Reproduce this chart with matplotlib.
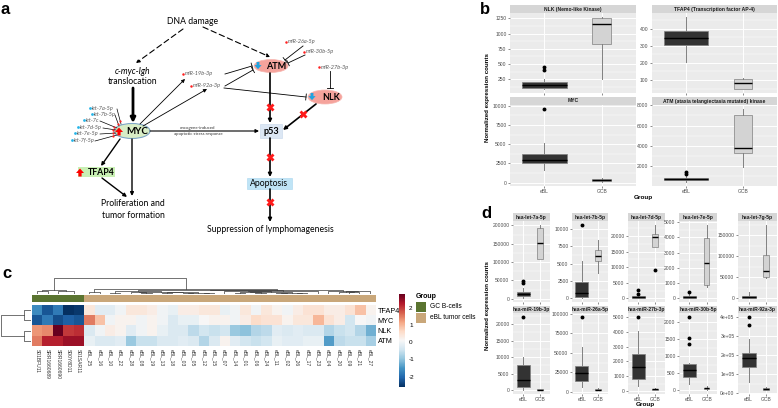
import numpy as np
import matplotlib
matplotlib.use("Agg")
import matplotlib.pyplot as plt
import matplotlib.patches as mpatches
from matplotlib.colors import ListedColormap

plt.rcParams["axes.unicode_minus"] = False

# ---------------------------------------------------------------
# data
# ---------------------------------------------------------------
# panel b : gene level boxplots  [whislo, q1, med, q3, whishi]
b_titles = ["NLK (Nemo-like Kinase)", "TFAP4 (Transcription factor AP-4)",
            "MYC", "ATM (ataxia telangiectasia mutated) kinase"]
b_ebl = [[86, 112, 150, 200, 255], [207, 303, 345, 384, 471],
         [1630, 2500, 3000, 3750, 5170], [400, 580, 720, 850, 1050]]
b_ebl_out = [[402, 457], [], [9600], [1250, 1450]]
b_gcb = [[255, 829, 1157, 1250, 1276], [45, 50, 80, 105, 110],
         [60, 170, 300, 430, 560], [1900, 3300, 3790, 7000, 7660]]
b_gcb_out = [[], [], [], []]
b_ticks = [[250, 500, 750, 1000, 1250], [100, 200, 300, 400],
           [0, 2500, 5000, 7500, 10000], [2000, 4000, 6000, 8000]]

# panel d : miRNA boxplots
d_titles = ["hsa-let-7a-5p", "hsa-let-7b-5p", "hsa-let-7d-5p", "hsa-let-7e-5p", "hsa-let-7g-5p",
            "hsa-miR-19b-3p", "hsa-miR-26a-5p", "hsa-miR-27b-3p", "hsa-miR-30b-5p", "hsa-miR-92a-3p"]
d_ebl = [[1000, 6400, 12700, 18200, 29000], [0, 240, 800, 2415, 5410],
         [0, 108, 400, 645, 1075], [0, 44, 110, 175, 263], [0, 1600, 3000, 5600, 16000],
         [0, 1020, 3000, 7650, 10200], [6500, 14350, 24000, 33500, 57800],
         [340, 850, 1600, 2470, 4040], [180, 398, 600, 776, 816],
         [60000, 137600, 186000, 208000, 282000]]
d_ebl_out = [[42700, 49000], [10630], [1400, 2800], [395], [],
             [22240], [96000], [5000], [1370, 1540, 2170], [358000, 400000]]
d_gcb = [[109000, 109000, 151800, 192700, 201800], [3720, 5410, 6180, 7000, 8450],
         [16450, 16450, 19680, 20750, 23650], [770, 877, 2300, 3950, 4825],
         [47900, 50300, 65400, 103700, 175500],
         [0, 50, 150, 300, 400], [2200, 2600, 3200, 3900, 4800],
         [70, 110, 140, 180, 225], [0, 30, 55, 80, 120],
         [14500, 16000, 21700, 27000, 30800]]
d_gcb_out = [[], [], [9140], [], [], [], [], [], [], []]
d_ticks = [[0, 50000, 100000, 150000, 200000], [0, 2500, 5000, 7500, 10000],
           [0, 5000, 10000, 15000, 20000], [0, 1000, 2000, 3000, 4000, 5000],
           [0, 50000, 100000, 150000],
           [0, 5000, 10000, 15000, 20000], [0, 25000, 50000, 75000, 100000],
           [0, 1000, 2000, 3000, 4000, 5000], [0, 500, 1000, 1500, 2000],
           [0, 100000, 200000, 300000, 400000]]
d_ticklabels_92a = ["0e+00", "1e+05", "2e+05", "3e+05", "4e+05"]

groups = ["eBL", "GCB"]

# panel c : heatmap (row scaled expression)
hm_rows = ["TFAP4", "MYC", "NLK", "ATM"]
hm_cols = ["S01BFU11", "SRR1660689", "SRR1660690", "S00Y8D11", "S01SAR11",
           "eBL_25", "eBL_16", "eBL_10", "eBL_22", "eBL_28", "eBL_08", "eBL_19",
           "eBL_13", "eBL_18", "eBL_03", "eBL_05", "eBL_12", "eBL_15", "eBL_07",
           "eBL_14", "eBL_01", "eBL_06", "eBL_24", "eBL_11", "eBL_02", "eBL_26",
           "eBL_17", "eBL_23", "eBL_04", "eBL_20", "eBL_09", "eBL_21", "eBL_27"]
hm_tfap4 = [-1.6, -2.2, -1.8, -2.6, -2.5,
            0.4, -0.2, -0.2, 0.0, 0.4, 0.4, 0.3, 0.0, -0.1, 0.3, 0.3, 0.4, 0.4, -0.1,
            0.0, 0.4, 0.0, 0.4, 0.2, 0.0, 0.3, 0.5, 0.5, 0.3, 0.3, 0.5, 0.9, 0.2]
hm_myc = [-2.2, -1.8, -2.3, -2.1, -2.2,
          1.5, 0.9, 0.0, 0.2, 0.2, 0.0, 0.2, 0.0, -0.3, -0.1, -0.1, 0.1, 0.2, 0.2,
          0.0, 0.3, 0.6, 0.5, 0.5, 0.2, 0.4, 0.4, 1.0, 0.5, 0.3, -0.4, 0.1, 0.0]
hm_nlk = [1.3, 1.4, 2.8, 2.0, 2.1,
          -0.3, 0.0, 0.3, 0.2, -0.2, 0.0, 0.2, -0.1, -0.3, -0.3, -0.6, -0.4, -0.5, -0.4,
          -0.9, -1.0, -0.7, -0.6, -0.2, -0.3, -0.2, -0.3, -0.3, -0.7, -0.5, -0.4, -0.7, -1.2]
hm_atm = [1.5, 2.2, 2.2, 2.4, 2.4,
          -0.1, -0.3, -0.3, -0.2, -0.9, -0.5, -0.5, -0.3, -0.3, -0.2, -0.3, -0.7, -0.3, 0.2,
          -0.2, -0.4, -0.5, -0.4, -0.1, -0.2, -0.2, -0.1, -0.1, -1.4, -0.6, -0.5, -0.5, -0.8]
hm_n_gcb = 5
hm_group_names = ["GC B-cells", "eBL tumor cells"]
hm_group_colors = ["#5A7430", "#C9A77A"]

# ---------------------------------------------------------------
# figure helpers (all layout in pixels of the 778x408 canvas)
# ---------------------------------------------------------------
W, H = 778, 408
fig = plt.figure(figsize=(W / 100, H / 100), dpi=100)
fig.patch.set_facecolor("white")
SANS = "Liberation Sans"


def px_axes(x0, y0, x1, y1):
    return fig.add_axes([x0 / W, 1 - y1 / H, (x1 - x0) / W, (y1 - y0) / H])


def fig_text(x, y, s, **kw):
    fig.text(x / W, 1 - y / H, s, **kw)


def gg_panel(x0, y0, x1, y1, strip_h, title, ebl, ebl_out, gcb, gcb_out,
             ticks, ticklabels=None, show_x=False):
    # strip on top
    sax = px_axes(x0, y0 - strip_h, x1, y0)
    sax.set_facecolor("#D6D6D6")
    sax.set_xticks([])
    sax.set_yticks([])
    for s in sax.spines.values():
        s.set_visible(False)
    sax.text(0.5, 0.5, title, ha="center", va="center", fontsize=3.6,
             fontweight="bold", family=SANS, color="#1A1A1A", transform=sax.transAxes)

    ax = px_axes(x0, y0, x1, y1)
    ax.set_facecolor("#EBEBEB")
    stats = []
    for vals, out in ((ebl, ebl_out), (gcb, gcb_out)):
        lo, q1, med, q3, hi = vals
        stats.append(dict(whislo=lo, q1=q1, med=med, q3=q3, whishi=hi, fliers=out))
    bp = ax.bxp(stats, positions=[1, 2], widths=[0.78, 0.33], patch_artist=True,
                showcaps=False,
                boxprops=dict(edgecolor="#808080", linewidth=0.5),
                whiskerprops=dict(color="#808080", linewidth=0.7),
                medianprops=dict(color="black", linewidth=1.0),
                flierprops=dict(marker="o", markersize=1.8, markerfacecolor="black",
                                markeredgecolor="black", linestyle="none"))
    for patch, fc in zip(bp["boxes"], ["#333333", "#D3D3D3"]):
        patch.set_facecolor(fc)

    allv = ebl + gcb + list(ebl_out) + list(gcb_out)
    lo, hi = min(allv), max(allv)
    pad = 0.05 * (hi - lo)
    ax.set_xlim(0.4, 2.6)

    step = ticks[1] - ticks[0]
    minor = [t + step / 2 for t in [ticks[0] - step] + ticks]
    ax.set_yticks(ticks)
    ax.set_yticklabels(ticklabels if ticklabels else [str(t) for t in ticks])
    ax.set_yticks(minor, minor=True)
    ax.set_ylim(lo - pad, hi + pad)
    ax.set_xticks([1, 2])
    ax.set_xticklabels(groups if show_x else ["", ""])
    ax.grid(which="major", color="white", linewidth=0.7)
    ax.grid(which="minor", axis="y", color="white", linewidth=0.35)
    ax.set_axisbelow(True)
    for s in ax.spines.values():
        s.set_visible(False)
    ax.tick_params(which="major", labelsize=3.6, length=1.5, width=0.4, color="#333333",
                   labelcolor="#4D4D4D", pad=1)
    ax.tick_params(which="minor", length=0)
    for lab in ax.get_xticklabels() + ax.get_yticklabels():
        lab.set_family(SANS)
    return ax


def adjacent_tree(points):
    # complete linkage, merging only neighbours so the tree follows the display order
    clusters = [([i], float(i), 0.0) for i in range(len(points))]
    segs = []
    h = 0.0
    while len(clusters) > 1:
        best = None
        for k in range(len(clusters) - 1):
            a, b = clusters[k][0], clusters[k + 1][0]
            d = max(np.linalg.norm(points[i] - points[j]) for i in a for j in b)
            if best is None or d < best[0]:
                best = (d, k)
        d, k = best
        ma, xa, ha = clusters[k]
        mb, xb, hb = clusters[k + 1]
        h = max(d, ha, hb)
        segs.append(([xa, xa, xb, xb], [ha, h, h, hb]))
        clusters[k:k + 2] = [(ma + mb, (xa + xb) / 2, h)]
    return segs, h


# ---------------------------------------------------------------
# panel a : pathway diagram
# ---------------------------------------------------------------
DIA = "Lato"
ax = px_axes(0, 0, 400, 240)
ax.set_xlim(0, 400)
ax.set_ylim(240, 0)
ax.axis("off")


def arrow(p0, p1, lw=1.0, ls="-", ms=5):
    ax.annotate("", xy=p1, xytext=p0,
                arrowprops=dict(arrowstyle="-|>", lw=lw, color="black", linestyle=ls,
                                mutation_scale=ms, shrinkA=0, shrinkB=0))


def inhibit(p0, p1, lw=0.6, bar=3.0):
    p0 = np.array(p0, float)
    p1 = np.array(p1, float)
    ax.plot([p0[0], p1[0]], [p0[1], p1[1]], color="black", lw=lw)
    d = (p1 - p0) / np.linalg.norm(p1 - p0)
    n = np.array([-d[1], d[0]]) * bar
    ax.plot([p1[0] - n[0], p1[0] + n[0]], [p1[1] - n[1], p1[1] + n[1]], color="black", lw=lw)


def block(x, y, up=True, color="red", size=1.0):
    if up:
        a = mpatches.FancyArrow(x, y + 4.5 * size, 0, -8 * size, width=3.2 * size,
                                head_width=8 * size, head_length=4.5 * size,
                                length_includes_head=True, color=color, lw=0)
    else:
        a = mpatches.FancyArrow(x, y - 4.5 * size, 0, 8 * size, width=3.2 * size,
                                head_width=8 * size, head_length=4.5 * size,
                                length_includes_head=True, color=color, lw=0)
    ax.add_patch(a)


def cross(x, y):
    ax.plot(x, y, marker="X", color="#FF1A1A", ms=6, mec="none", zorder=5)


def mir(x, y, s):
    ax.plot(x - 2, y, marker="o", ms=1.8, color="#FF2020", mec="none")
    ax.text(x, y, s, ha="left", va="center", fontsize=4.0, style="italic",
            color="#595959", family=DIA)


ax.text(193, 22, "DNA damage", ha="center", va="center", fontsize=6.2, family=DIA)
arrow((183, 29), (136, 63), lw=0.8, ls=(0, (5, 3)))
arrow((203, 27), (270, 57), lw=0.8, ls=(0, (5, 3)))
ax.text(133, 71, "c-myc-Igh", ha="center", va="center", fontsize=6.2, style="italic", family=DIA)
ax.text(133, 81, "translocation", ha="center", va="center", fontsize=6.2, family=DIA)
arrow((133, 88), (133, 123), lw=2.0, ms=7)

# MYC node
ax.add_patch(mpatches.Ellipse((132, 131), 36, 15, facecolor="#D8EDC6", edgecolor="#7FA7C8", lw=0.8))
ax.text(137, 131.5, "MYC", ha="center", va="center", fontsize=7, fontweight="bold", family=DIA)
block(119, 131)

# let-7 family
let7 = [("let-7a-5p", 92, 108, 117, (121, 124)), ("let-7b-5p", 94, 114, 115, (119, 126)),
        ("let-7c", 86, 120, 100, (117, 128)), ("let-7d-5p", 80, 127, 103, (116, 130)),
        ("let-7e-5p", 77, 133, 100, (116, 133)), ("let-7f-5p", 74, 140, 95, (117, 135))]
for name, tx, ty, ex, tgt in let7:
    ax.plot(tx - 2, ty, marker="o", ms=2.0, color="#26B5E8", mec="none")
    ax.text(tx, ty, name, ha="left", va="center", fontsize=4.0, style="italic",
            color="#595959", family=DIA)
    ax.plot([ex, tgt[0]], [ty + 1, tgt[1]], color="black", lw=0.5)
    ax.plot(ex + 0.8 * (tgt[0] - ex), ty + 1 + 0.8 * (tgt[1] - ty - 1), marker="o",
            ms=1.6, color="#FF2020", mec="none")

# TFAP4
ax.add_patch(mpatches.Rectangle((78, 167), 37, 10, facecolor="#C9F0B4", edgecolor="none"))
ax.text(101, 172.5, "TFAP4", ha="center", va="center", fontsize=6.3, fontweight="bold", family=DIA)
block(80, 172)
arrow((120, 139), (101, 166), lw=1.0)
arrow((102, 178), (127, 197), lw=1.0)
arrow((132, 139), (132, 196), lw=1.0)
ax.text(133, 204, "Proliferation and", ha="center", va="center", fontsize=6.2, family=DIA)
ax.text(133, 215, "tumor formation", ha="center", va="center", fontsize=6.2, family=DIA)

# miRNAs targeting ATM / NLK
arrow((140, 124), (185, 79), lw=0.6)
arrow((143, 126), (207, 89), lw=0.6)
mir(185, 74, "miR-19b-3p")
mir(193, 86, "miR-92a-3p")
inhibit((225, 74), (252, 66))
inhibit((225, 86), (253, 70))
inhibit((224, 88), (306, 97))
mir(288, 42, "miR-26a-5p")
mir(306, 52, "miR-30b-5p")
mir(321, 67, "miR-27b-3p")
inhibit((303, 46), (285, 60))
inhibit((305, 55), (288, 63))
inhibit((330, 71), (330, 88))

ax.add_patch(mpatches.Ellipse((271, 66), 34, 13, facecolor="#F5A39C", edgecolor="#F7B5AF", lw=0.5))
ax.text(276, 66.5, "ATM", ha="center", va="center", fontsize=6.5, fontweight="bold", family=DIA)
block(258, 66, up=False, color="#1FA3E0", size=0.9)
ax.add_patch(mpatches.Ellipse((325, 97), 34, 14, facecolor="#F5A39C", edgecolor="#F7B5AF", lw=0.5))
ax.text(331, 97.5, "NLK", ha="center", va="center", fontsize=6.5, fontweight="bold", family=DIA)
block(312, 97, up=False, color="#1FA3E0", size=0.9)

# p53 / apoptosis chain
arrow((270, 73), (270, 123), lw=1.2)
arrow((316, 104), (283, 130), lw=1.2)
arrow((150, 131), (259, 131), lw=0.8)
ax.text(198, 127.5, "oncogene-induced", ha="center", va="center", fontsize=3.2, family=DIA, color="#333333")
ax.text(198, 134.5, "apoptotic stress response", ha="center", va="center", fontsize=3.2, family=DIA, color="#333333")
ax.add_patch(mpatches.Rectangle((260, 124), 22, 14, facecolor="#DCE7F4", edgecolor="#C5D6EA", lw=0.4))
ax.text(271, 131.5, "p53", ha="center", va="center", fontsize=6.5, fontweight="bold", family=DIA)
arrow((270, 138), (270, 177), lw=1.2)
ax.add_patch(mpatches.Rectangle((247, 178), 45, 11, facecolor="#BFE4F6", edgecolor="#A9D6EE", lw=0.4))
ax.text(269.5, 183.5, "Apoptosis", ha="center", va="center", fontsize=6.2, family=DIA)
arrow((270, 189), (270, 222), lw=1.2)
ax.text(270, 230, "Suppression of lymphomagenesis", ha="center", va="center", fontsize=6.2, family=DIA)
cross(270, 107)
cross(303, 114)
cross(270, 157)
cross(270, 202)

# ---------------------------------------------------------------
# panel b
# ---------------------------------------------------------------
b_boxes = [(510, 13, 636, 93), (652, 13, 777, 93), (510, 105, 636, 186), (652, 105, 777, 186)]
for i, (x0, y0, x1, y1) in enumerate(b_boxes):
    gg_panel(x0, y0, x1, y1, 8, b_titles[i], b_ebl[i], b_ebl_out[i], b_gcb[i], b_gcb_out[i],
             b_ticks[i], show_x=(i >= 2))
fig_text(487, 97, "Normalized expression counts", rotation=90, ha="center", va="center",
         fontsize=4.4, fontweight="bold", family=SANS)
fig_text(643, 197, "Group", ha="center", va="center", fontsize=4.6, fontweight="bold", family=SANS)

# ---------------------------------------------------------------
# panel d
# ---------------------------------------------------------------
d_x = [(513, 550), (572, 608), (628, 665), (679, 717), (738, 777)]
d_y = [(221, 302), (313, 394)]
for i in range(10):
    r, c = divmod(i, 5)
    labels = d_ticklabels_92a if i == 9 else None
    gg_panel(d_x[c][0], d_y[r][0], d_x[c][1], d_y[r][1], 8 if r == 0 else 7, d_titles[i],
             d_ebl[i], d_ebl_out[i], d_gcb[i], d_gcb_out[i], d_ticks[i], labels, show_x=(r == 1))
fig_text(487, 305, "Normalized expression counts", rotation=90, ha="center", va="center",
         fontsize=4.4, fontweight="bold", family=SANS)
fig_text(645, 404.5, "Group", ha="center", va="center", fontsize=4.6, fontweight="bold", family=SANS)

# ---------------------------------------------------------------
# panel c : heatmap
# ---------------------------------------------------------------
mat = np.array([hm_tfap4, hm_myc, hm_nlk, hm_atm])
vmin, vmax = mat.min(), mat.max()
cmap = plt.get_cmap("RdBu_r")

hx0, hx1, hy0, hy1 = 32, 375, 305, 346
hax = px_axes(hx0, hy0, hx1, hy1)
im = hax.imshow(mat, aspect="auto", cmap=cmap, vmin=vmin, vmax=vmax, interpolation="nearest")
hax.set_yticks(range(len(hm_rows)))
hax.set_yticklabels(hm_rows, family=SANS, fontsize=5.2)
hax.yaxis.tick_right()
hax.set_xticks(range(len(hm_cols)))
hax.set_xticklabels(hm_cols, rotation=270, family=SANS, fontsize=3.6, color="#333333")
hax.tick_params(length=0, pad=2)
for s in hax.spines.values():
    s.set_visible(False)

# annotation bar
grp = np.array([[0] * hm_n_gcb + [1] * (len(hm_cols) - hm_n_gcb)])
aax = px_axes(hx0, 295, hx1, 302)
aax.imshow(grp, aspect="auto", cmap=ListedColormap(hm_group_colors), vmin=0, vmax=1,
           interpolation="nearest")
aax.axis("off")

# column dendrogram
segs, hmax = adjacent_tree(mat.T)
dax = px_axes(hx0, 278, hx1, 294)
for xs, ys in segs:
    dax.plot(xs, ys, color="#3A3A3A", lw=0.5)
dax.set_xlim(-0.5, len(hm_cols) - 0.5)
dax.set_ylim(0, hmax)
dax.axis("off")

# row dendrogram
segs, hmax = adjacent_tree(mat)
rax = px_axes(1, hy0, 31, hy1)
for xs, ys in segs:
    rax.plot(ys, xs, color="#3A3A3A", lw=0.5)
rax.set_ylim(len(hm_rows) - 0.5, -0.5)
rax.set_xlim(hmax, 0)
rax.axis("off")

# colour legend
cax = px_axes(399, 294, 405, 387)
cb = fig.colorbar(im, cax=cax, ticks=[-2, -1, 0, 1, 2])
cb.outline.set_visible(False)
cb.ax.tick_params(length=0, labelsize=4.6, pad=3)
for lab in cb.ax.get_yticklabels():
    lab.set_family(SANS)

# group legend
fig_text(416, 297, "Group", ha="left", va="center", fontsize=5.0, fontweight="bold", family=SANS)
for k, (name, col) in enumerate(zip(hm_group_names, hm_group_colors)):
    pax = px_axes(416, 302 + k * 10.5, 426, 312 + k * 10.5)
    pax.set_facecolor(col)
    pax.set_xticks([])
    pax.set_yticks([])
    for s in pax.spines.values():
        s.set_visible(False)
    fig_text(430, 307 + k * 10.5, name, ha="left", va="center", fontsize=4.8, family=SANS)

# panel letters
for letter, (lx, ly) in zip("abcd", [(5, 10), (485, 9), (7, 273), (486, 214)]):
    fig_text(lx, ly, letter, ha="center", va="center", fontsize=12, fontweight="bold", family=SANS)

fig.savefig("out.png", dpi=100)
